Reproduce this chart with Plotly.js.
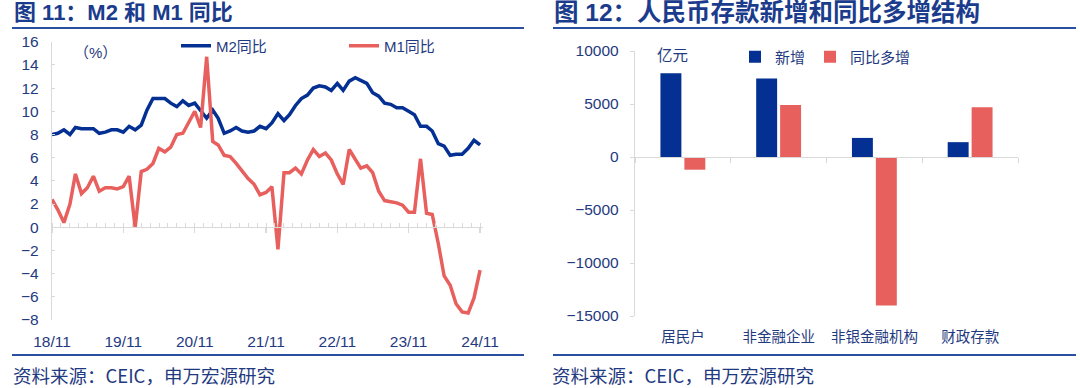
<!DOCTYPE html>
<html>
<head>
<meta charset="utf-8">
<script src="https://cdn.plot.ly/plotly-3.0.1.min.js"></script>
<style>html,body{margin:0;padding:0;background:#fff;}#chart{width:1080px;height:388px;}</style>
</head>
<body>
<div id="chart"></div>
<script>
// ---- data ----
const months = [
 '2018-11-01','2018-12-01',
 '2019-01-01','2019-02-01','2019-03-01','2019-04-01','2019-05-01','2019-06-01','2019-07-01','2019-08-01','2019-09-01','2019-10-01','2019-11-01','2019-12-01',
 '2020-01-01','2020-02-01','2020-03-01','2020-04-01','2020-05-01','2020-06-01','2020-07-01','2020-08-01','2020-09-01','2020-10-01','2020-11-01','2020-12-01',
 '2021-01-01','2021-02-01','2021-03-01','2021-04-01','2021-05-01','2021-06-01','2021-07-01','2021-08-01','2021-09-01','2021-10-01','2021-11-01','2021-12-01',
 '2022-01-01','2022-02-01','2022-03-01','2022-04-01','2022-05-01','2022-06-01','2022-07-01','2022-08-01','2022-09-01','2022-10-01','2022-11-01','2022-12-01',
 '2023-01-01','2023-02-01','2023-03-01','2023-04-01','2023-05-01','2023-06-01','2023-07-01','2023-08-01','2023-09-01','2023-10-01','2023-11-01','2023-12-01',
 '2024-01-01','2024-02-01','2024-03-01','2024-04-01','2024-05-01','2024-06-01','2024-07-01','2024-08-01','2024-09-01','2024-10-01','2024-11-01'
];
const m2 = [
 8.0, 8.1,
 8.4, 8.0, 8.6, 8.5, 8.5, 8.5, 8.1, 8.2, 8.4, 8.4, 8.2, 8.7,
 8.4, 8.8, 10.1, 11.1, 11.1, 11.1, 10.7, 10.4, 10.9, 10.5, 10.7, 10.1,
 9.4, 10.1, 9.4, 8.1, 8.3, 8.6, 8.3, 8.2, 8.3, 8.7, 8.5, 9.0,
 9.8, 9.2, 9.7, 10.5, 11.1, 11.4, 12.0, 12.2, 12.1, 11.8, 12.4, 11.8,
 12.6, 12.9, 12.7, 12.4, 11.6, 11.3, 10.7, 10.6, 10.3, 10.3, 10.0, 9.7,
 8.7, 8.7, 8.3, 7.2, 7.0, 6.2, 6.3, 6.3, 6.8, 7.5, 7.1
];
const m1 = [
 2.4, 1.5,
 0.4, 2.0, 4.6, 2.9, 3.4, 4.4, 3.1, 3.4, 3.4, 3.3, 3.5, 4.4,
 0.0, 4.8, 5.0, 5.5, 6.8, 6.5, 6.9, 8.0, 8.1, 9.1, 10.0, 8.6,
 14.7, 7.4, 7.1, 6.2, 6.1, 5.5, 4.9, 4.2, 3.7, 2.8, 3.0, 3.5,
 -1.9, 4.7, 4.7, 5.1, 4.6, 5.8, 6.7, 6.1, 6.4, 5.8, 4.6, 3.7,
 6.7, 5.8, 5.1, 5.3, 4.7, 3.1, 2.3, 2.2, 2.1, 1.9, 1.3, 1.3,
 5.9, 1.2, 1.1, -1.4, -4.2, -5.0, -6.6, -7.3, -7.4, -6.1, -3.7
];
const xTickVals = ['2018-11-01','2019-11-01','2020-11-01','2021-11-01','2022-11-01','2023-11-01','2024-11-01'];
const xTickText = ['18/11','19/11','20/11','21/11','22/11','23/11','24/11'];

const depCats = ['居民户','非金融企业','非银金融机构','财政存款'];
const depNew = [7900, 7400, 1800, 1400];
const depYoY = [-1200, 4900, -14000, 4700];

// ---- style ----
const FONT = '"Liberation Sans", Arial, "Noto Sans CJK SC", sans-serif';
const TITLEFONT = '"Liberation Sans", "Noto Sans CJK SC", sans-serif';
const TXT = '#1f3a80';
const NAVY = '#033092';
const RED = '#e8605e';
const AX = '#d9d9d9';
const RULE = '#2a4f9e';

const W = 1080, H = 388;
const px = v => v / W;
const py = v => 1 - v / H;

const lDom = [py(320), py(41.7)];
const rDom = [py(316), py(51)];
const lZero = lDom[0] + (lDom[1] - lDom[0]) * (8 / 24);
const rZero = rDom[0] + (rDom[1] - rDom[0]) * (15000 / 25000);
const lRange = ['2018-11-01', '2024-11-16'];

const traces = [
  {type:'scatter', mode:'lines', name:'M2同比', x:months, y:m2, xaxis:'x', yaxis:'y',
   line:{color:NAVY, width:3.5}, legend:'legend'},
  {type:'scatter', mode:'lines', name:'M1同比', x:months, y:m1, xaxis:'x', yaxis:'y',
   line:{color:RED, width:3.5}, legend:'legend2'},
  {type:'bar', name:'新增', x:depCats, y:depNew, xaxis:'x2', yaxis:'y2',
   marker:{color:NAVY}, legend:'legend3'},
  {type:'bar', name:'同比多增', x:depCats, y:depYoY, xaxis:'x2', yaxis:'y2',
   marker:{color:RED}, legend:'legend4'}
];

const legBase = {orientation:'h', xanchor:'left', yanchor:'middle', bgcolor:'rgba(0,0,0,0)',
  font:{size:15, color:TXT, family:FONT}, borderwidth:0};

const layout = {
  width:W, height:H, margin:{l:0, r:0, t:0, b:0},
  paper_bgcolor:'#ffffff', plot_bgcolor:'rgba(0,0,0,0)',
  font:{family:FONT, color:TXT, size:15},
  barmode:'group', bargap:0.5, bargroupgap:0.125,
  showlegend:true,
  legend: Object.assign({}, legBase, {x:px(176), y:py(46)}),
  legend2: Object.assign({}, legBase, {x:px(344), y:py(46)}),
  legend3: Object.assign({}, legBase, {x:px(735), y:py(57)}),
  legend4: Object.assign({}, legBase, {x:px(810), y:py(57)}),
  xaxis:{domain:[px(52), px(483)], anchor:'free', position:lZero, type:'date', range:lRange,
    tickmode:'array', tickvals:xTickVals, ticktext:xTickText, tickangle:0,
    showline:true, linecolor:AX, linewidth:1.2, showgrid:false, zeroline:false,
    ticks:'outside', ticklen:5, tickcolor:AX, tickwidth:1.2,
    minor:{ticks:'inside', ticklen:4, tickcolor:AX, tickwidth:1, dtick:3.945e9, tick0:'2018-11-01', showgrid:false},
    tickfont:{size:15.5, color:TXT}, ticklabelstandoff:95},
  yaxis:{domain:lDom, anchor:'x', range:[-8,16], dtick:2, tick0:0, showline:true, linecolor:AX, linewidth:1.2,
    ticks:'inside', ticklen:3, tickcolor:AX, showgrid:false, zeroline:false,
    tickfont:{size:15.5, color:TXT}, ticklabelstandoff:9},
  xaxis2:{domain:[px(635), px(1018)], anchor:'free', position:rZero, type:'category',
    categoryorder:'array', categoryarray:depCats, range:[-0.5,3.5], tickangle:0,
    showline:true, linecolor:AX, linewidth:1.2, showgrid:false, zeroline:false,
    ticks:'outside', tickson:'boundaries', ticklen:5, tickcolor:AX,
    tickfont:{size:14.5, color:TXT}, ticklabelstandoff:166},
  yaxis2:{domain:rDom, anchor:'x2', range:[-15000,10000], dtick:5000, tickformat:'d',
    showline:true, linecolor:AX, linewidth:1.2,
    ticks:'outside', ticklen:4, tickcolor:AX, showgrid:false, zeroline:false,
    tickfont:{size:15.5, color:TXT}, ticklabelstandoff:8},
  annotations:[
    {xref:'paper', yref:'paper', x:px(12), y:py(13), xanchor:'left', yanchor:'middle', showarrow:false,
     text:'<b>图 11：M2 和 M1 同比</b>', font:{size:22, color:'#1b3c8c', family:TITLEFONT}},
    {xref:'paper', yref:'paper', x:px(552), y:py(13), xanchor:'left', yanchor:'middle', showarrow:false,
     text:'<b>图 12：人民币存款新增和同比多增结构</b>', font:{size:24.5, color:'#1b3c8c', family:TITLEFONT}},
    {xref:'paper', yref:'paper', x:px(72), y:py(53), xanchor:'left', yanchor:'middle', showarrow:false,
     text:'（%）', font:{size:15, color:TXT}},
    {xref:'paper', yref:'paper', x:px(655), y:py(56), xanchor:'left', yanchor:'middle', showarrow:false,
     text:'亿元', font:{size:15.5, color:TXT}},
    {xref:'paper', yref:'paper', x:px(11), y:py(375), xanchor:'left', yanchor:'middle', showarrow:false,
     text:'资料来源：CEIC，申万宏源研究', font:{size:18.5, color:TXT, family:'"Noto Sans CJK SC", sans-serif'}},
    {xref:'paper', yref:'paper', x:px(550), y:py(375), xanchor:'left', yanchor:'middle', showarrow:false,
     text:'资料来源：CEIC，申万宏源研究', font:{size:18.5, color:TXT, family:'"Noto Sans CJK SC", sans-serif'}}
  ],
  shapes:[
    {type:'line', xref:'paper', yref:'paper', x0:px(12), x1:px(524), y0:py(28), y1:py(28), line:{color:RULE, width:2}},
    {type:'line', xref:'paper', yref:'paper', x0:px(553), x1:px(1076), y0:py(28), y1:py(28), line:{color:RULE, width:2}},
    {type:'line', xref:'paper', yref:'paper', x0:px(12), x1:px(524), y0:py(355), y1:py(355), line:{color:RULE, width:2}},
    {type:'line', xref:'paper', yref:'paper', x0:px(553), x1:px(1076), y0:py(355), y1:py(355), line:{color:RULE, width:2}}
  ]
};

Plotly.newPlot('chart', traces, layout, {displayModeBar:false, staticPlot:true});
</script>
</body>
</html>
